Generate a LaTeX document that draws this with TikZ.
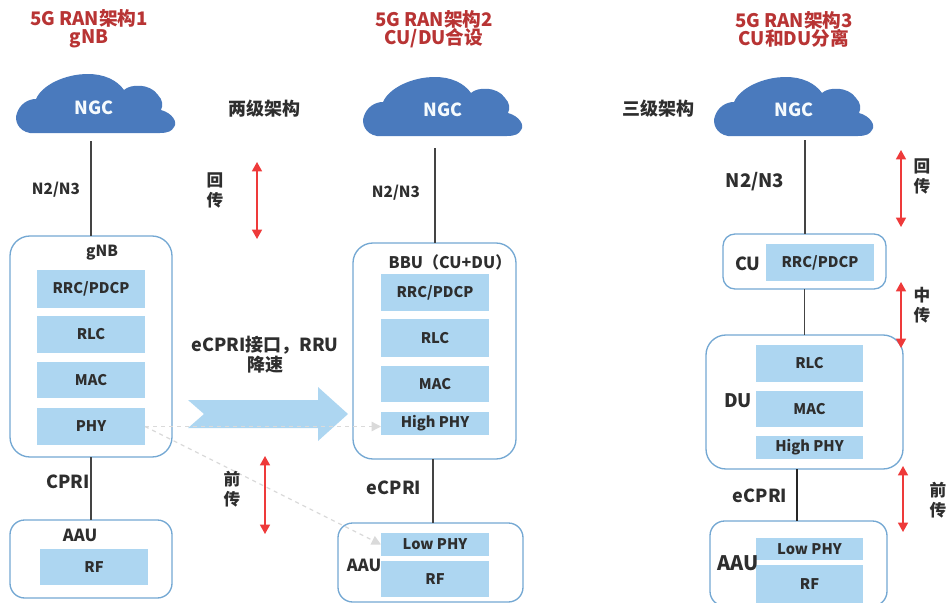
\documentclass[tikz,border=0pt]{standalone}
\usepackage{fontspec}
\setmainfont{Noto Sans CJK SC}
\usetikzlibrary{arrows.meta}
\definecolor{blk}{HTML}{ADD6F1}
\definecolor{edgeb}{HTML}{74A8D3}
\definecolor{cloudb}{HTML}{4A7ABD}
\definecolor{titlered}{HTML}{B83434}
\definecolor{arrred}{HTML}{EE3A3A}
\definecolor{txt}{HTML}{2E2E2E}
\definecolor{conn}{HTML}{444444}
\definecolor{dash}{HTML}{DADADA}
\tikzset{
  blockbox/.style={fill=blk,draw=none,inner sep=0pt,outer sep=0pt,text=txt,font=\fontsize{11}{12}\selectfont\bfseries},
  groupbox/.style={draw=edgeb,line width=1pt,fill=white,inner sep=0pt,outer sep=0pt},
  lbl/.style={text=txt,inner sep=0pt,align=center,font=\fontsize{11.5}{13}\selectfont\bfseries},
  lblaau/.style={lbl,font=\fontsize{12.5}{14}\selectfont\bfseries},
  lblmid/.style={lbl,font=\fontsize{13.5}{15}\selectfont\bfseries},
  lblbig/.style={lbl,font=\fontsize{14}{15}\selectfont\bfseries},
  lblarch/.style={lbl,font=\fontsize{13.5}{15}\selectfont\bfseries},
  vert/.style={lbl,font=\fontsize{12.5}{14}\selectfont\bfseries},
  titletxt/.style={text=titlered,inner sep=0pt,align=center,font=\fontsize{14}{13.5}\selectfont\bfseries},
  ngctxt/.style={text=white!88!blk,inner sep=0pt,font=\fontsize{13.5}{13}\selectfont\bfseries},
  link/.style={draw=conn,line width=1.2pt},
  linkdark/.style={draw=black!85,line width=1.6pt},
  redarrow/.style={draw=arrred,line width=1.1pt,{Triangle[width=7.5pt,length=7pt]}-{Triangle[width=7.5pt,length=7pt]}},
  dashlink/.style={draw=dash,line width=1pt,dashed,-{Triangle[width=7pt,length=7pt]}},
}
\newcommand{\Rbox}[7]{% name style x1 y1 x2 y2 text
  \node[#2,minimum width={(#5-#3)*0.75pt},minimum height={(#6-#4)*0.75pt}] (#1) at ({(#3+#5)/2},{(#4+#6)/2}) {#7};}
\newcommand{\NGCcloud}[2]{%
  \fill[cloudb,shift={(#1,#2)}] (30,133)
    .. controls (18,131) and (14,120) .. (17,113)
    .. controls (20,104) and (28,99) .. (36,99)
    .. controls (42,85) and (65,74) .. (88,74)
    .. controls (104,74) and (117,80) .. (124,90)
    .. controls (130,84) and (150,83) .. (158,95)
    .. controls (163,100) and (163,106) .. (161,110)
    .. controls (172,113) and (178,122) .. (174,127)
    .. controls (172,131) and (168,133) .. (160,133) -- cycle;}
\begin{document}
\begin{tikzpicture}[x=0.75pt,y=-0.75pt]
\useasboundingbox (0,0) rectangle (947,603);
\clip (0,0) rectangle (947,603);
% titles
\node[titletxt] (t1) at (89,29) {5G RAN架构1\\gNB};
\node[titletxt] (t2) at (434,29) {5G RAN架构2\\CU/DU合设};
\node[titletxt] (t3) at (794,29) {5G RAN架构3\\CU和DU分离};
% clouds
\NGCcloud{0}{0}
\NGCcloud{347}{3}
\NGCcloud{698}{3}
\node[ngctxt] (ngc1) at (94,108) {NGC};
\node[ngctxt] (ngc2) at (443,110) {NGC};
\node[ngctxt] (ngc3) at (794,110) {NGC};
\coordinate (c1) at (91,141);
\coordinate (c2) at (435,148);
\coordinate (c3) at (805,140);
\coordinate (c4) at (433,457);
\coordinate (c5) at (797,469);
% big arrow
\fill[blk] (188,400) -- (318,400) -- (318,387) -- (348,414) -- (318,441) -- (318,428) -- (188,428) -- (204,414) -- cycle;
% column 1
\Rbox{gnb}{groupbox,rounded corners=15pt}{10}{236}{172}{457}{}
\Rbox{rrc1}{blockbox}{37}{270}{145}{308}{RRC/PDCP}
\Rbox{rlc1}{blockbox}{37}{316}{145}{353}{RLC}
\Rbox{mac1}{blockbox}{37}{362}{145}{398}{MAC}
\Rbox{phy1}{blockbox}{37}{408}{145}{445}{PHY}
\Rbox{aau1}{groupbox,rounded corners=11pt}{10}{520}{172}{598}{}
\Rbox{rf1}{blockbox}{40}{549}{148}{585}{RF}
\draw[link] (c1) -- (c1 |- gnb.north);
\draw[link] (gnb.south) -- (aau1.north);
% column 2
\Rbox{bbu}{groupbox,rounded corners=15pt}{353}{243}{516}{459}{}
\Rbox{rrc2}{blockbox}{381}{274}{489}{311}{RRC/PDCP}
\Rbox{rlc2}{blockbox}{381}{319}{489}{357}{RLC}
\Rbox{mac2}{blockbox}{381}{366}{489}{402}{MAC}
\Rbox{hi2}{blockbox}{381}{412}{489}{435}{High PHY}
\Rbox{aau2}{groupbox,rounded corners=11pt}{338}{523}{523}{602}{}
\Rbox{lo2}{blockbox}{381}{533}{489}{556}{Low PHY}
\Rbox{rf2}{blockbox}{381}{561}{489}{597}{RF}
\draw[link] (c2) -- (c2 |- bbu.north);
\draw[link] (c4 |- bbu.south) -- (c4 |- aau2.north);
% column 3
\Rbox{cu}{groupbox,rounded corners=9pt}{723}{234}{886}{289}{}
\Rbox{rrc3}{blockbox}{766}{244}{874}{281}{RRC/PDCP}
\Rbox{du}{groupbox,rounded corners=15pt}{706}{335}{903}{469}{}
\Rbox{rlc3}{blockbox}{756}{345}{863}{382}{RLC}
\Rbox{mac3}{blockbox}{756}{391}{863}{427}{MAC}
\Rbox{hi3}{blockbox}{756}{436}{863}{459}{High PHY}
\Rbox{aau3}{groupbox,rounded corners=11pt}{710}{521}{887}{606}{}
\Rbox{lo3}{blockbox}{756}{538}{863}{560}{Low PHY}
\Rbox{rf3}{blockbox}{756}{565}{863}{603}{RF}
\draw[link] (c3) -- (c3 |- cu.north);
\draw[link] (cu.south) -- (cu.south |- du.north);
\draw[linkdark] (c5 |- du.south) -- (c5 |- aau3.north);
% dashed
\draw[dashlink] (phy1.east) -- (hi2.west |- phy1.east);
\draw[dashlink] (phy1.east) -- (lo2.west);
% red arrows
\coordinate (ra1) at (257,162); \coordinate (rb1) at (257,239);
\coordinate (ra2) at (265,456); \coordinate (rb2) at (265,534);
\coordinate (ra3) at (901,150); \coordinate (rb3) at (901,227);
\coordinate (ra4) at (901,282); \coordinate (rb4) at (901,348);
\coordinate (ra5) at (903,466); \coordinate (rb5) at (903,532);
\draw[redarrow] (ra1) -- (rb1);
\draw[redarrow] (ra2) -- (rb2);
\draw[redarrow] (ra3) -- (rb3);
\draw[redarrow] (ra4) -- (rb4);
\draw[redarrow] (ra5) -- (rb5);
% labels
\node[lbl] (l1) at (56,190) {N2/N3};
\node[lbl] (l2) at (102,253) {gNB};
\node[lblmid] (l3) at (68,482) {CPRI};
\node[lblaau] (l4) at (80,535) {AAU};
\node[lblarch] (l5) at (264,109) {两级架构};
\node[vert] (l6) at (215,190) {回\\[1pt]传};
\node[vert] (l7) at (232,489) {前\\[1pt]传};
\node[lblmid] (l8) at (265,355) {eCPRI接口，RRU\\降速};
\node[lbl] (l9) at (396,193) {N2/N3};
\node[lbl,font=\fontsize{12}{13}\selectfont\bfseries] (l10) at (450,262) {BBU（CU+DU）};
\node[lblmid] (l11) at (394,488) {eCPRI};
\node[lblaau] (l12) at (364,565) {AAU};
\node[lblarch] (l13) at (658,109) {三级架构};
\node[lblbig] (l14) at (755,182) {N2/N3};
\node[lblmid] (l15) at (748,264) {CU};
\node[lblbig] (l16) at (738,401) {DU};
\node[lblmid] (l17) at (760,496) {eCPRI};
\node[lbl,font=\fontsize{15}{16}\selectfont\bfseries] (l18) at (738,563) {AAU};
\node[vert] (l19) at (922,176) {回\\[1pt]传};
\node[vert] (l20) at (922,305) {中\\[1pt]传};
\node[vert] (l21) at (938,500) {前\\[1pt]传};
\end{tikzpicture}
\end{document}
